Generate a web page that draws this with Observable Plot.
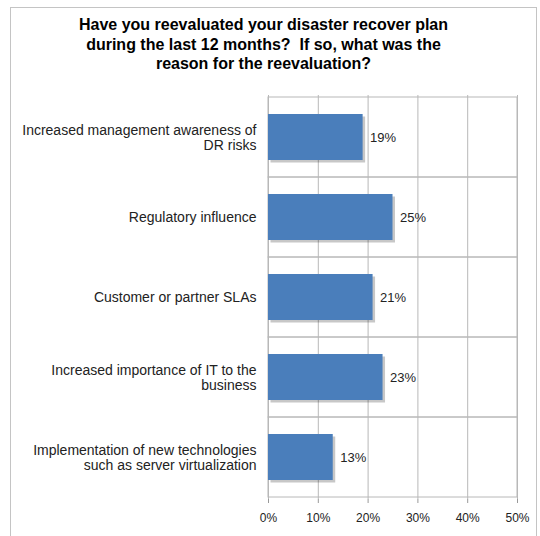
<!DOCTYPE html>
<html><head><meta charset="utf-8">
<script src="https://cdn.jsdelivr.net/npm/d3@7"></script>
<script src="https://cdn.jsdelivr.net/npm/@observablehq/plot@0.6"></script>
<style>
body{margin:0;background:#fff;font-family:"Liberation Sans",Arial,sans-serif;}
#wrap{position:relative;width:540px;height:536px;overflow:hidden;}
#frame{position:absolute;left:10px;top:7px;width:527px;height:560px;border:1px solid #c4c4c4;box-sizing:border-box;}
#title{position:absolute;left:0;top:15px;width:527px;text-align:center;font-weight:bold;font-size:16px;line-height:19.5px;color:#000;}
#chart{position:absolute;left:0;top:0;}
</style></head>
<body>
<div id="wrap">
  <div id="frame"></div>
  <div id="title">Have you reevaluated your disaster recover plan<br>during the last 12 months?&nbsp; If so, what was the<br>reason for the reevaluation?</div>
  <div id="chart"></div>
</div>
<script>
const categories = [
  "Increased management awareness of\nDR risks",
  "Regulatory influence",
  "Customer or partner SLAs",
  "Increased importance of IT to the\nbusiness",
  "Implementation of new technologies\nsuch as server virtualization"
];
const values = [19, 25, 21, 23, 13];
const xTicks = [0, 10, 20, 30, 40, 50];
const xDomain = [0, 50];

const data = categories.map((c, i) => ({label: c, value: values[i]}));

const chart = Plot.plot({
  width: 540,
  height: 536,
  marginLeft: 268,
  marginRight: 23,
  marginTop: 95,
  marginBottom: 37,
  style: {fontFamily: "Liberation Sans, Arial, sans-serif", fontSize: "12px", color: "#222", background: "transparent"},
  x: {domain: xDomain, ticks: xTicks},
  y: {domain: categories, padding: 0, axis: null},
  marks: [
    Plot.gridX(xTicks, {stroke: "#b8b8b8", strokeOpacity: 1}),
    Plot.barX(categories, {x1: () => xDomain[0], x2: () => xDomain[1], y: d => d, fill: "none", stroke: "#b8b8b8"}),
    Plot.barX(data, {x: "value", y: "label", fill: "#000", fillOpacity: 0.22, insetTop: 17, insetBottom: 17, dx: 2.5, dy: 2.5}),
    Plot.barX(data, {x: "value", y: "label", fill: "#4a7ebb", insetTop: 17, insetBottom: 17}),
    Plot.text(data, {x: "value", y: "label", text: d => d.value + "%", dx: 7, textAnchor: "start", fontSize: 13, fill: "#222"}),
    Plot.text(data, {x: () => xDomain[0], y: "label", text: "label", dx: -12, textAnchor: "end", fontSize: 14, lineHeight: 1.1, fill: "#222"}),
    Plot.axisX({ticks: xTicks, tickFormat: d => d + "%", tickSize: 4, tickPadding: 10, stroke: "#999", fill: "#222", fontSize: 12, label: null})
  ]
});
document.getElementById("chart").appendChild(chart);
</script>
</body></html>
